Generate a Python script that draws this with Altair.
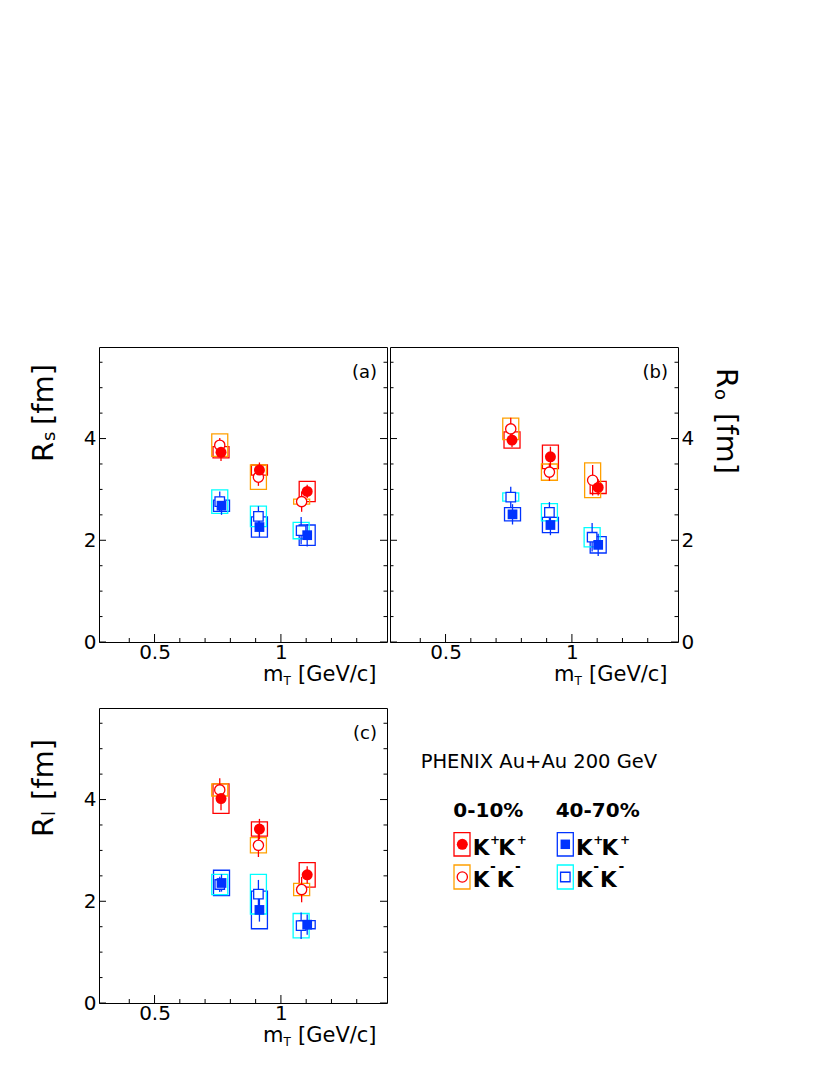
import altair as alt
import pandas as pd

# ---------------- data ----------------
# transverse mass m_T [GeV/c] of each series
MT_KPKP_0010 = [0.763, 0.915, 1.104]
MT_KMKM_0010 = [0.758, 0.911, 1.082]
MT_KPKP_4070 = [0.765, 0.915, 1.104]
MT_KMKM_4070 = [0.758, 0.911, 1.080]

# (a) R_s [fm]
RS_KPKP_0010 = [3.73, 3.38, 2.96]
RS_KPKP_0010_STAT = [0.17, 0.15, 0.13]
RS_KPKP_0010_SYS = [0.11, 0.10, 0.20]
RS_KMKM_0010 = [3.87, 3.24, 2.76]
RS_KMKM_0010_STAT = [0.14, 0.17, 0.20]
RS_KMKM_0010_SYS = [0.22, 0.24, 0.05]
RS_KPKP_4070 = [2.68, 2.26, 2.10]
RS_KPKP_4070_STAT = [0.18, 0.20, 0.22]
RS_KPKP_4070_SYS = [0.11, 0.20, 0.20]
RS_KMKM_4070 = [2.76, 2.47, 2.19]
RS_KMKM_4070_STAT = [0.20, 0.20, 0.27]
RS_KMKM_4070_SYS = [0.23, 0.20, 0.16]

# (b) R_o [fm]
RO_KPKP_0010 = [3.97, 3.64, 3.04]
RO_KPKP_0010_STAT = [0.14, 0.20, 0.16]
RO_KPKP_0010_SYS = [0.16, 0.23, 0.12]
RO_KMKM_0010 = [4.19, 3.34, 3.18]
RO_KMKM_0010_STAT = [0.22, 0.17, 0.30]
RO_KMKM_0010_SYS = [0.21, 0.16, 0.34]
RO_KPKP_4070 = [2.51, 2.30, 1.91]
RO_KPKP_4070_STAT = [0.20, 0.20, 0.22]
RO_KPKP_4070_SYS = [0.13, 0.15, 0.16]
RO_KMKM_4070 = [2.85, 2.55, 2.06]
RO_KMKM_4070_STAT = [0.20, 0.20, 0.28]
RO_KMKM_4070_SYS = [0.08, 0.17, 0.19]

# (c) R_l [fm]
RL_KPKP_0010 = [4.02, 3.42, 2.52]
RL_KPKP_0010_STAT = [0.23, 0.20, 0.17]
RL_KPKP_0010_SYS = [0.29, 0.14, 0.24]
RL_KMKM_0010 = [4.19, 3.10, 2.23]
RL_KMKM_0010_STAT = [0.23, 0.23, 0.25]
RL_KMKM_0010_SYS = [0.12, 0.15, 0.12]
RL_KPKP_4070 = [2.36, 1.83, 1.54]
RL_KPKP_4070_STAT = [0.17, 0.23, 0.20]
RL_KPKP_4070_SYS = [0.25, 0.37, 0.08]
RL_KMKM_4070 = [2.33, 2.14, 1.52]
RL_KMKM_4070_STAT = [0.15, 0.28, 0.26]
RL_KMKM_4070_SYS = [0.20, 0.39, 0.24]

# axis ticks
X_MAJOR = [0.5, 1.0]
X_MINOR = [0.4, 0.6, 0.7, 0.8, 0.9, 1.1, 1.2, 1.3]
Y_MAJOR = [0, 2, 4]
Y_MINOR = [0.5, 1.0, 1.5, 2.5, 3.0, 3.5, 4.5, 5.0, 5.5]

# text
HEADER = "PHENIX Au+Au 200 GeV"
CENT_LABELS = ["0-10%", "40-70%"]

# ---------------- style ----------------
W, H = 288, 295
FONT = "DejaVu Sans"
RED = "#ff0000"
ORANGE = "#ffa000"
BLUE = "#0033ff"
CYAN = "#00ffff"

XS = alt.Scale(domain=[0.3, 1.4], nice=False, zero=False)
YS = alt.Scale(domain=[0, 5.8], nice=False, zero=False)

ONE = pd.DataFrame({"k": [0]})


def series_df(mt, r, stat, sys):
    df = pd.DataFrame({"mT": mt, "R": r, "stat": stat, "sys": sys})
    df["lo"] = df["R"] - df["stat"]
    df["hi"] = df["R"] + df["stat"]
    df["slo"] = df["R"] - df["sys"]
    df["shi"] = df["R"] + df["sys"]
    return df


def txt(text, x, y, size, angle=0, bold=False, align="left", baseline="alphabetic"):
    kw = dict(text=text, font=FONT, fontSize=size, align=align,
              baseline=baseline, color="black")
    if angle:
        kw["angle"] = angle
    if bold:
        kw["fontWeight"] = "bold"
    return alt.Chart(ONE).mark_text(**kw).encode(x=alt.value(x), y=alt.value(y))


def make_panel(dfs, yorient, letter, sub, title_pos):
    xax = alt.Axis(values=X_MAJOR, format="~g", title="", ticks=False, tickSize=0,
                   domain=False, grid=False, labelFont=FONT, labelFontSize=20,
                   labelPadding=0, labelFlush=False, labelColor="black",
                   labelOverlap=False)
    yax = alt.Axis(orient=yorient, values=Y_MAJOR, format="d", title="", ticks=False,
                   tickSize=0, domain=False, grid=False, labelFont=FONT,
                   labelFontSize=20, labelPadding=3, labelFlush=False,
                   labelColor="black", labelOverlap=False)

    def X(f):
        return alt.X(f"{f}:Q", scale=XS, axis=xax)

    def Y(f):
        return alt.Y(f"{f}:Q", scale=YS, axis=yax)

    kpc, kmc, kpp, kmp = dfs
    spec = [
        (kpp, BLUE, BLUE, "square", True),
        (kmp, BLUE, CYAN, "square", False),
        (kpc, RED, RED, "circle", True),
        (kmc, RED, ORANGE, "circle", False),
    ]
    layers = []
    # systematic boxes
    for df, mc, bc, shp, filled in spec:
        layers.append(
            alt.Chart(df).mark_bar(width=16, fillOpacity=0, stroke=bc, strokeWidth=1.3)
            .encode(x=X("mT"), y=Y("slo"), y2="shi"))
    # statistical error bars
    for df, mc, bc, shp, filled in spec:
        layers.append(
            alt.Chart(df).mark_rule(color=mc, strokeWidth=1.3)
            .encode(x=X("mT"), y=Y("lo"), y2="hi"))
    # open markers
    for df, mc, bc, shp, filled in spec:
        if not filled:
            layers.append(
                alt.Chart(df).mark_point(shape=shp, fill="white", fillOpacity=1,
                                         stroke=mc, strokeWidth=1.3,
                                         size=105 if shp == "circle" else 90,
                                         opacity=1)
                .encode(x=X("mT"), y=Y("R")))
    # filled markers
    for df, mc, bc, shp, filled in spec:
        if filled:
            layers.append(
                alt.Chart(df).mark_point(shape=shp, filled=True, color=mc,
                                         size=121 if shp == "circle" else 95,
                                         opacity=1)
                .encode(x=X("mT"), y=Y("R")))

    # inward ticks
    ymaj = pd.DataFrame({"v": Y_MAJOR})
    ymin = pd.DataFrame({"v": Y_MINOR})
    xmaj = pd.DataFrame({"v": X_MAJOR})
    xmin = pd.DataFrame({"v": X_MINOR})
    for d, ln in ((ymaj, 7), (ymin, 3.5)):
        layers.append(alt.Chart(d).mark_rule(color="black", strokeWidth=1)
                      .encode(y=Y("v"), x=alt.value(0), x2=alt.value(ln)))
        layers.append(alt.Chart(d).mark_rule(color="black", strokeWidth=1)
                      .encode(y=Y("v"), x=alt.value(W - ln), x2=alt.value(W)))
    for d, ln in ((xmaj, 8), (xmin, 4)):
        layers.append(alt.Chart(d).mark_rule(color="black", strokeWidth=1)
                      .encode(x=X("v"), y=alt.value(H - ln), y2=alt.value(H)))

    # panel letter
    layers.append(txt(letter, 278, 31, 18, align="right"))
    # x title  m_T [GeV/c]
    layers.append(txt("m", 164, 334, 21))
    layers.append(txt("T", 184.5, 338.3, 12))
    layers.append(txt("[GeV/c]", 199, 334, 21))
    # y title  R_sub [fm]
    y0 = title_pos
    if yorient == "left":
        layers.append(txt("R", -46, y0, 29, angle=270))
        layers.append(txt(sub, -44, y0 - 21, 18, angle=270))
        layers.append(txt("[fm]", -46, y0 - 37, 29, angle=270))
    else:
        layers.append(txt("R", W + 39, y0, 29, angle=90))
        layers.append(txt(sub, W + 37, y0 + 21, 18, angle=90))
        layers.append(txt("[fm]", W + 39, y0 + 45, 29, angle=90))
    return alt.layer(*layers).properties(width=W, height=H)


panel_a = make_panel([
    series_df(MT_KPKP_0010, RS_KPKP_0010, RS_KPKP_0010_STAT, RS_KPKP_0010_SYS),
    series_df(MT_KMKM_0010, RS_KMKM_0010, RS_KMKM_0010_STAT, RS_KMKM_0010_SYS),
    series_df(MT_KPKP_4070, RS_KPKP_4070, RS_KPKP_4070_STAT, RS_KPKP_4070_SYS),
    series_df(MT_KMKM_4070, RS_KMKM_4070, RS_KMKM_4070_STAT, RS_KMKM_4070_SYS),
], "left", "(a)", "s", 115)

panel_b = make_panel([
    series_df(MT_KPKP_0010, RO_KPKP_0010, RO_KPKP_0010_STAT, RO_KPKP_0010_SYS),
    series_df(MT_KMKM_0010, RO_KMKM_0010, RO_KMKM_0010_STAT, RO_KMKM_0010_SYS),
    series_df(MT_KPKP_4070, RO_KPKP_4070, RO_KPKP_4070_STAT, RO_KPKP_4070_SYS),
    series_df(MT_KMKM_4070, RO_KMKM_4070, RO_KMKM_4070_STAT, RO_KMKM_4070_SYS),
], "right", "(b)", "o", 21)

panel_c = make_panel([
    series_df(MT_KPKP_0010, RL_KPKP_0010, RL_KPKP_0010_STAT, RL_KPKP_0010_SYS),
    series_df(MT_KMKM_0010, RL_KMKM_0010, RL_KMKM_0010_STAT, RL_KMKM_0010_SYS),
    series_df(MT_KPKP_4070, RL_KPKP_4070, RL_KPKP_4070_STAT, RL_KPKP_4070_SYS),
    series_df(MT_KMKM_4070, RL_KMKM_4070, RL_KMKM_4070_STAT, RL_KMKM_4070_SYS),
], "left", "(c)", "l", 129)


# ---------------- legend panel ----------------
def box(x1, x2, y1, y2, color):
    return (alt.Chart(ONE).mark_rect(fillOpacity=0, stroke=color, strokeWidth=1.3)
            .encode(x=alt.value(x1), x2=alt.value(x2), y=alt.value(y1), y2=alt.value(y2)))


def marker(x, y, shape, filled, color, size):
    if filled:
        m = alt.Chart(ONE).mark_point(shape=shape, filled=True, color=color,
                                      size=size, opacity=1)
    else:
        m = alt.Chart(ONE).mark_point(shape=shape, fill="white", fillOpacity=1,
                                      stroke=color, strokeWidth=1.3, size=size,
                                      opacity=1)
    return m.encode(x=alt.value(x), y=alt.value(y))


def kk(x0, y0, sign):
    sup_y = y0 - 11.5 if sign == "+" else y0 - 16
    sup_size = 12 if sign == "+" else 14
    k2 = 25.6 if sign == "+" else 24.0
    return [
        txt("K", x0, y0, 21.5, bold=True),
        txt(sign, x0 + 17.3, sup_y, sup_size, bold=True),
        txt("K", x0 + k2, y0, 21.5, bold=True),
        txt(sign, x0 + k2 + 18.4, sup_y, sup_size, bold=True),
    ]


leg = [
    txt(HEADER, 30.7, 60, 19.5),
    txt(CENT_LABELS[0], 63.3, 109.3, 20, bold=True),
    txt(CENT_LABELS[1], 165.7, 109.3, 20, bold=True),
    box(64, 80, 124.7, 148, RED),
    box(64, 80, 157, 181, ORANGE),
    box(167.3, 183.3, 124.7, 148, BLUE),
    box(167.3, 183.3, 157, 181, CYAN),
    marker(72.3, 136.3, "circle", True, RED, 121),
    marker(72.3, 169, "circle", False, RED, 105),
    marker(175.3, 136.3, "square", True, BLUE, 90),
    marker(175.3, 169, "square", False, BLUE, 90),
]
leg += kk(82.7, 147, "+")
leg += kk(82.7, 178.7, "-")
leg += kk(186.0, 147, "+")
leg += kk(186.0, 178.7, "-")

legend_panel = alt.layer(*leg).properties(
    width=W, height=H, view=alt.ViewBackground(stroke="transparent"))

chart = alt.concat(
    panel_a, panel_b, panel_c, legend_panel,
    columns=2, spacing={"row": 66, "column": 3}, bounds="flush",
).resolve_scale(x="independent", y="independent").properties(
    padding={"left": 21, "top": 338, "right": 5, "bottom": 5}
).configure_view(stroke="black", strokeWidth=1)

chart.save("out.html", embed_options={"renderer": "svg", "actions": False})
